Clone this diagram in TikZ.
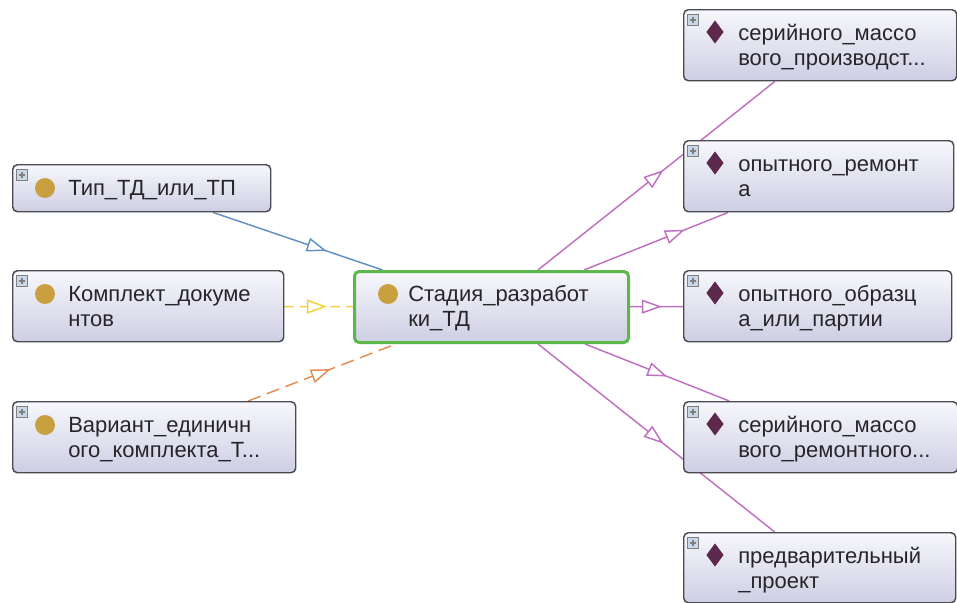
\documentclass[tikz,border=0pt]{standalone}
\usepackage{fontspec}
\setmainfont{Liberation Sans}
\usetikzlibrary{arrows.meta,shapes.geometric,decorations.markings,backgrounds}

\definecolor{boxtop}{RGB}{247,247,252}
\definecolor{boxbot}{RGB}{206,206,228}
\definecolor{boxline}{RGB}{74,74,82}
\definecolor{clsgold}{RGB}{201,160,64}
\definecolor{indplum}{RGB}{92,40,76}
\definecolor{selgreen}{RGB}{92,184,74}
\definecolor{linkblue}{RGB}{96,145,195}
\definecolor{linkyellow}{RGB}{240,208,60}
\definecolor{linkorange}{RGB}{228,140,80}
\definecolor{linkpurple}{RGB}{192,112,192}
\definecolor{txtgray}{RGB}{38,38,42}
\definecolor{plusfill}{RGB}{200,216,232}

\newcommand{\firstline}{\rule{0pt}{16pt}}

\begin{document}
\begin{tikzpicture}[x=0.75pt,y=-0.75pt,
  box/.style={draw=boxline,line width=1.1pt,rounded corners=3.5pt,top color=boxtop,bottom color=boxbot,
    anchor=north west,minimum height=53.25pt,inner sep=0pt},
  lbl/.style={anchor=north west,inner sep=0pt,align=left,text=txtgray,font=\fontsize{16.5}{18.75}\selectfont},
  cls/.style={circle,fill=clsgold,minimum size=15pt,inner sep=0pt},
  ind/.style={diamond,fill=indplum,minimum width=13pt,minimum height=17.5pt,inner sep=0pt},
  plusbox/.style={draw=gray,fill=plusfill,minimum size=8pt,inner sep=0pt,
    path picture={\draw[line width=.9pt]
      ([yshift=-1.4pt]path picture bounding box.north) -- ([yshift=1.4pt]path picture bounding box.south)
      ([xshift=1.4pt]path picture bounding box.west) -- ([xshift=-1.4pt]path picture bounding box.east);}},
  link/.style={line width=1.1pt},
  tipat/.style={postaction={decorate},decoration={markings,
    mark=at position #1 with {\pgfsetdash{}{0pt}\arrow{Triangle[length=15pt,width=10.5pt,fill=white]}}}}]
  \useasboundingbox (0,0) rectangle (957,603);

  % classes on the left
  \node[box,minimum width=193.5pt,minimum height=35.25pt] (tip) at (12,164) {};
  \node[plusbox] (tip-p) at ([shift={(10,11)}]tip.north west) {};
  \node[cls] (tip-i) at ([shift={(33,24)}]tip.north west) {};
  \node[lbl] (tip-t) at ([shift={(56,9.7)}]tip.north west) {\firstline Тип\_ТД\_или\_ТП};

  \node[box,minimum width=203.25pt] (komplekt) at (12,270) {};
  \node[plusbox] (komplekt-p) at ([shift={(10,11)}]komplekt.north west) {};
  \node[cls] (komplekt-i) at ([shift={(33,24)}]komplekt.north west) {};
  \node[lbl] (komplekt-t) at ([shift={(56,9.7)}]komplekt.north west) {\firstline Комплект\_докуме\\нтов};

  \node[box,minimum width=212.25pt] (variant) at (12,401) {};
  \node[plusbox] (variant-p) at ([shift={(10,11)}]variant.north west) {};
  \node[cls] (variant-i) at ([shift={(33,24)}]variant.north west) {};
  \node[lbl] (variant-t) at ([shift={(56,9.7)}]variant.north west) {\firstline Вариант\_единичн\\ого\_комплекта\_Т...};

  % selected class
  \node[box,draw=selgreen,line width=2.25pt,minimum width=205.5pt] (stadiya) at (353,270) {};
  \node[cls] (stadiya-i) at ([shift={(35,24)}]stadiya.north west) {};
  \node[lbl] (stadiya-t) at ([shift={(55,9.7)}]stadiya.north west) {\firstline Стадия\_разработ\\ки\_ТД};

  % individuals on the right
  \node[box,minimum width=204.75pt] (serprod) at (683,9) {};
  \node[plusbox] (serprod-p) at ([shift={(10,11)}]serprod.north west) {};
  \node[ind] (serprod-i) at ([shift={(32,23)}]serprod.north west) {};
  \node[lbl] (serprod-t) at ([shift={(55,9.7)}]serprod.north west) {\firstline серийного\_массо\\вого\_производст...};

  \node[box,minimum width=202.5pt] (opremont) at (683,140) {};
  \node[plusbox] (opremont-p) at ([shift={(10,11)}]opremont.north west) {};
  \node[ind] (opremont-i) at ([shift={(32,23)}]opremont.north west) {};
  \node[lbl] (opremont-t) at ([shift={(55,9.7)}]opremont.north west) {\firstline опытного\_ремонт\\а};

  \node[box,minimum width=201pt] (opobrazec) at (683,270) {};
  \node[plusbox] (opobrazec-p) at ([shift={(10,11)}]opobrazec.north west) {};
  \node[ind] (opobrazec-i) at ([shift={(32,23)}]opobrazec.north west) {};
  \node[lbl] (opobrazec-t) at ([shift={(55,9.7)}]opobrazec.north west) {\firstline опытного\_образц\\а\_или\_партии};

  \node[box,minimum width=205.5pt] (serremont) at (683,401) {};
  \node[plusbox] (serremont-p) at ([shift={(10,11)}]serremont.north west) {};
  \node[ind] (serremont-i) at ([shift={(32,23)}]serremont.north west) {};
  \node[lbl] (serremont-t) at ([shift={(55,9.7)}]serremont.north west) {\firstline серийного\_массо\\вого\_ремонтного...};

  \node[box,minimum width=204pt,minimum height=52.5pt] (predv) at (683,532) {};
  \node[plusbox] (predv-p) at ([shift={(10,11)}]predv.north west) {};
  \node[ind] (predv-i) at ([shift={(32,23)}]predv.north west) {};
  \node[lbl] (predv-t) at ([shift={(55,9.7)}]predv.north west) {\firstline предварительный\\\_проект};

  % links, under the boxes
  \begin{scope}[on background layer]
    \draw[link,linkblue,tipat=0.67] (tip) -- (stadiya);
    \draw[link,linkyellow,dash pattern=on 7pt off 4.5pt,tipat=0.62] (komplekt) -- (stadiya);
    \draw[link,linkorange,dash pattern=on 10pt off 5pt,tipat=0.56] (variant) -- (stadiya);

    \draw[link,linkpurple,tipat=0.53] (stadiya) -- (serprod);
    \draw[link,linkpurple,tipat=0.7] (stadiya) -- (opremont);
    \draw[link,linkpurple,tipat=0.6] (stadiya) -- (opobrazec);
    \draw[link,linkpurple,tipat=0.57] (stadiya) -- (serremont);
    \draw[link,linkpurple,tipat=0.53] (stadiya) -- (predv);
  \end{scope}
\end{tikzpicture}
\end{document}
